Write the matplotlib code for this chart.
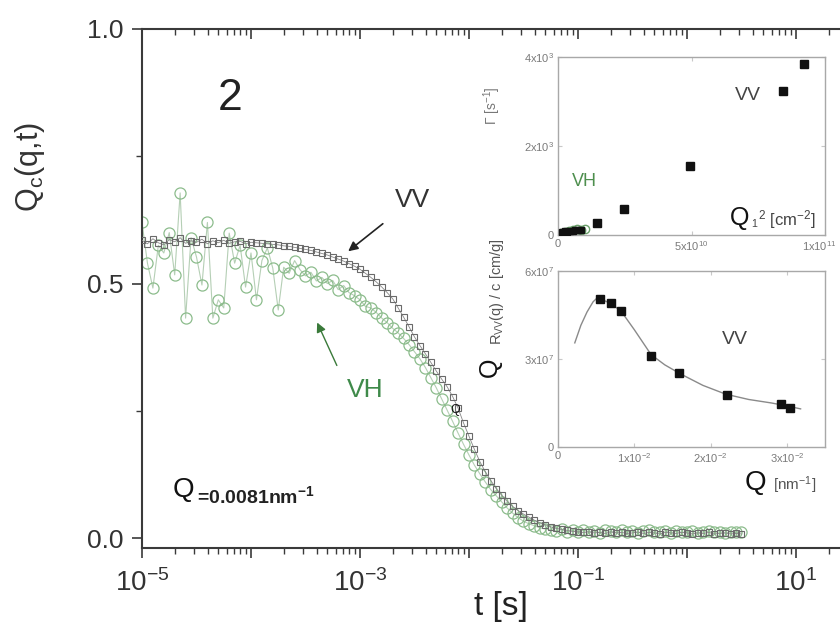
import matplotlib
matplotlib.use('Agg')
import matplotlib.pyplot as plt
import matplotlib.transforms as mtransforms
import numpy as np
from matplotlib.ticker import FixedLocator, FixedFormatter, LogLocator, NullFormatter

plt.rcParams['font.family'] = ['Liberation Sans', 'DejaVu Sans']
plt.rcParams['mathtext.fontset'] = 'custom'
plt.rcParams['mathtext.rm'] = 'Liberation Sans'
plt.rcParams['mathtext.it'] = 'Liberation Sans:italic'
plt.rcParams['mathtext.bf'] = 'Liberation Sans:bold'
plt.rcParams['mathtext.default'] = 'regular'

# ---------------- data ----------------
# main panel: correlation functions, time given as log10(t [s])
vv_log10_t = [-5.00, -4.95, -4.90, -4.85, -4.80, -4.75, -4.70, -4.65, -4.60, -4.55,
              -4.50, -4.45, -4.40, -4.35, -4.30, -4.25, -4.20, -4.15, -4.10, -4.05,
              -4.00, -3.95, -3.90, -3.85, -3.80, -3.75, -3.70, -3.65, -3.60, -3.55,
              -3.50, -3.45, -3.40, -3.35, -3.30, -3.25, -3.20, -3.15, -3.10, -3.05,
              -3.00, -2.95, -2.90, -2.85, -2.80, -2.75, -2.70, -2.65, -2.60, -2.55,
              -2.50, -2.45, -2.40, -2.35, -2.30, -2.25, -2.20, -2.15, -2.10, -2.05,
              -2.00, -1.95, -1.90, -1.85, -1.80, -1.75, -1.70, -1.65, -1.60, -1.55,
              -1.50, -1.45, -1.40, -1.35, -1.30, -1.25, -1.20, -1.15, -1.10, -1.05,
              -1.00, -0.95, -0.90, -0.85, -0.80, -0.75, -0.70, -0.65, -0.60, -0.55,
              -0.50, -0.45, -0.40, -0.35, -0.30, -0.25, -0.20, -0.15, -0.10, -0.05,
              0.00, 0.05, 0.10, 0.15, 0.20, 0.25, 0.30, 0.35, 0.40, 0.45, 0.50]
vv_c = [0.585, 0.578, 0.588, 0.580, 0.576, 0.586, 0.582, 0.590, 0.579, 0.584,
        0.581, 0.587, 0.578, 0.584, 0.580, 0.585, 0.579, 0.582, 0.583, 0.578,
        0.581, 0.580, 0.579, 0.578, 0.577, 0.576, 0.574, 0.573, 0.571, 0.569,
        0.567, 0.565, 0.562, 0.559, 0.556, 0.552, 0.548, 0.544, 0.539, 0.534,
        0.528, 0.520, 0.512, 0.503, 0.493, 0.482, 0.470, 0.452, 0.434, 0.415,
        0.395, 0.378, 0.362, 0.345, 0.328, 0.312, 0.297, 0.278, 0.255, 0.226,
        0.200, 0.174, 0.150, 0.130, 0.113, 0.097, 0.084, 0.072, 0.062, 0.054,
        0.047, 0.041, 0.035, 0.030, 0.026, 0.022, 0.019, 0.017, 0.015, 0.013,
        0.012, 0.011, 0.012, 0.010, 0.011, 0.009, 0.012, 0.010, 0.011, 0.009,
        0.010, 0.012, 0.009, 0.011, 0.010, 0.008, 0.011, 0.010, 0.009, 0.011,
        0.010, 0.008, 0.010, 0.009, 0.011, 0.008, 0.009, 0.010, 0.008, 0.009, 0.008]

vh_log10_t = vv_log10_t
vh_c = [0.620, 0.540, 0.491, 0.575, 0.560, 0.600, 0.517, 0.678, 0.432, 0.590,
        0.552, 0.497, 0.620, 0.432, 0.468, 0.452, 0.599, 0.540, 0.575, 0.493,
        0.560, 0.468, 0.545, 0.570, 0.530, 0.448, 0.532, 0.520, 0.545, 0.527,
        0.515, 0.522, 0.505, 0.512, 0.500, 0.506, 0.488, 0.496, 0.482, 0.476,
        0.468, 0.455, 0.452, 0.443, 0.432, 0.423, 0.412, 0.403, 0.392, 0.380,
        0.366, 0.352, 0.335, 0.315, 0.295, 0.273, 0.251, 0.229, 0.206, 0.184,
        0.163, 0.143, 0.126, 0.110, 0.095, 0.083, 0.071, 0.059, 0.049, 0.040,
        0.033, 0.028, 0.024, 0.020, 0.018, 0.016, 0.014, 0.017, 0.012, 0.015,
        0.011, 0.016, 0.012, 0.014, 0.010, 0.015, 0.013, 0.011, 0.016, 0.012,
        0.014, 0.010, 0.013, 0.015, 0.011, 0.012, 0.014, 0.010, 0.013, 0.011,
        0.012, 0.014, 0.010, 0.012, 0.013, 0.011, 0.012, 0.010, 0.012, 0.011, 0.012]

# inset 1: relaxation rate vs Q^2 (x in units of 1e10 cm^-2)
gam_q2 = [1.46, 2.47, 4.94, 8.43, 9.21]
gam_vv = [270, 584, 1551, 3236, 3843]
gam_q2_low = [0.15, 0.25, 0.35, 0.45, 0.55, 0.65, 0.75, 0.85]
gam_vv_low = [60, 80, 75, 100, 95, 110, 120, 115]
gam_vh_q2 = [0.10, 0.25, 0.40, 0.55, 0.70, 0.85, 1.00]
gam_vh = [50, 70, 90, 110, 130, 120, 140]

# inset 2: Rayleigh ratio vs Q (x in units of 1e-2 nm^-1, y in 1e7 cm/g)
r_q = [0.553, 0.70, 0.83, 1.22, 1.59, 2.22, 2.92, 3.04]
r_vv = [5.05, 4.91, 4.64, 3.10, 2.52, 1.77, 1.47, 1.33]
fit_q = [0.22, 0.30, 0.38, 0.46, 0.52, 0.60, 0.70, 0.83, 1.00, 1.22, 1.40, 1.60,
         1.90, 2.20, 2.50, 2.80, 3.00, 3.18]
fit_vv = [3.55, 4.15, 4.60, 4.95, 5.10, 5.00, 4.88, 4.62, 4.00, 3.15, 2.80, 2.50,
          2.10, 1.80, 1.62, 1.50, 1.40, 1.30]

main_xticks = [1e-5, 1e-4, 1e-3, 1e-2, 1e-1, 1e0, 1e1, 1e2]
main_xlabels = ['$10^{-5}$', '', '$10^{-3}$', '', '$10^{-1}$', '', '$10^{1}$', '']
main_yticks = [0.0, 0.5, 1.0]
main_ylabels = ['0.0', '0.5', '1.0']

# ---------------- figure ----------------
W, H = 840, 630
fig = plt.figure(figsize=(8.4, 6.3), dpi=100)


def rect(x0, y0, x1, y1):
    return [x0 / W, 1 - y1 / H, (x1 - x0) / W, (y1 - y0) / H]


def fx(px):
    return px / W


def fy(py):
    return 1 - py / H


ax = fig.add_axes(rect(142, 29, 905, 548))
t_vh = 10.0 ** np.array(vh_log10_t)
t_vv = 10.0 ** np.array(vv_log10_t)
ax.plot(t_vh, vh_c, '-', color='#b5cfb5', lw=0.8, marker='o', ms=8,
        mfc='none', mec='#8cbc8c', mew=0.9, zorder=2)
ax.plot(t_vv, vv_c, '-', color='#888888', lw=0.6, marker='s', ms=4.6,
        mfc='none', mec='#6a6a6a', mew=0.8, zorder=3)

ax.set_xscale('log')
ax.set_xlim(1e-5, 1e2)
ax.set_ylim(-0.0196, 1.0)
ax.xaxis.set_major_locator(FixedLocator(main_xticks))
ax.xaxis.set_major_formatter(FixedFormatter(main_xlabels))
ax.xaxis.set_minor_locator(LogLocator(base=10, subs=np.arange(2, 10)))
ax.xaxis.set_minor_formatter(NullFormatter())
ax.yaxis.set_major_locator(FixedLocator(main_yticks))
ax.yaxis.set_major_formatter(FixedFormatter(main_ylabels))
ax.yaxis.set_minor_locator(FixedLocator([0.25, 0.75]))
for s in ax.spines.values():
    s.set_color('#3a3a3a')
    s.set_linewidth(1.5)
ax.tick_params(axis='both', which='major', direction='out', length=7.5, width=1.2,
               color='#3a3a3a', labelsize=19, labelcolor='#333333', pad=6)
ax.tick_params(axis='both', which='minor', direction='out', length=4, width=1.0,
               color='#3a3a3a')
ax.tick_params(axis='x', which='major', pad=8, labelsize=20)

# top ticks pointing inwards
axt = ax.twiny()
axt.set_xscale('log')
axt.set_xlim(ax.get_xlim())
axt.xaxis.set_major_locator(FixedLocator(main_xticks))
axt.xaxis.set_minor_locator(LogLocator(base=10, subs=np.arange(2, 10)))
axt.xaxis.set_major_formatter(NullFormatter())
axt.xaxis.set_minor_formatter(NullFormatter())
axt.tick_params(axis='x', which='major', direction='in', length=7, width=1.2, color='#3a3a3a')
axt.tick_params(axis='x', which='minor', direction='in', length=4, width=1.0, color='#3a3a3a')
for s in axt.spines.values():
    s.set_visible(False)

# main texts
fig.text(fx(501), fy(606), 't [s]', fontsize=24, color='#222222', ha='center', va='center')
fig.text(fx(30), fy(167), 'Q$_c$(q,t)', fontsize=22, color='#333333', rotation=90,
         ha='center', va='center')
fig.text(fx(230), fy(98), '2', fontsize=32, color='#222222', ha='center', va='center')
fig.text(fx(413), fy(200), 'VV', fontsize=19, color='#333333', ha='center', va='center')
fig.text(fx(365), fy(390), 'VH', fontsize=19, color='#3f8a4a', ha='center', va='center')
fig.text(fx(173), fy(497), 'Q', fontsize=20, color='#111111', ha='left', va='baseline')
fig.text(fx(197), fy(503), '=0.0081nm$^{-1}$', fontsize=14, color='#222222',
         fontweight='bold', ha='left', va='baseline')
fig.text(fx(455), fy(410), 'Q', fontsize=9, color='#111111', ha='center', va='center')

fig.add_artist(matplotlib.patches.FancyArrowPatch(
    (fx(385), fy(222)), (fx(346), fy(253)), transform=fig.transFigure,
    arrowstyle='-|>', mutation_scale=14, color='#222222', lw=1.2))
fig.add_artist(matplotlib.patches.FancyArrowPatch(
    (fx(338), fy(368)), (fx(316), fy(320)), transform=fig.transFigure,
    arrowstyle='-|>', mutation_scale=14, color='#3a7a3a', lw=1.0))

# ---------------- inset 1 ----------------
in_col = '#a8a8a8'
lab_col = '#7a7a7a'
ax1 = fig.add_axes(rect(558, 57, 825, 235))
ax1.plot(gam_vh_q2, gam_vh, 'o', ms=6, mfc='none', mec='#6aa06a', mew=1.0, zorder=2)
ax1.plot(gam_q2_low, gam_vv_low, 's', ms=4, color='#111111', zorder=3)
ax1.plot(gam_q2, gam_vv, 's', ms=5.5, color='#111111', zorder=3)
ax1.set_xlim(0, 10)
ax1.set_ylim(0, 4000)
ax1.set_xticks([0, 5, 10])
ax1.set_xticklabels(['0', '5x10$^{10}$', '1x10$^{11}$'])
ax1.set_yticks([0, 2000, 4000])
ax1.set_yticklabels(['0', '2x10$^{3}$', '4x10$^{3}$'])
for s in ax1.spines.values():
    s.set_color(in_col)
    s.set_linewidth(1.0)
ax1.tick_params(direction='in', length=3, width=0.8, color='#c8c8c8', labelsize=8,
                labelcolor=lab_col, pad=3, top=True, right=True)
# keep the last label inside the canvas
last = ax1.get_xticklabels()[-1]
last.set_horizontalalignment('right')
last.set_transform(last.get_transform() + mtransforms.ScaledTranslation(12 / 100, 0, fig.dpi_scale_trans))
fig.text(fx(748), fy(95), 'VV', fontsize=14, color='#444444', ha='center', va='center')
fig.text(fx(584), fy(182), 'VH', fontsize=13, color='#4e8f4e', ha='center', va='center')
fig.text(fx(730), fy(225), 'Q', fontsize=18, color='#111111', ha='left', va='baseline')
fig.text(fx(751), fy(225), '$_1$', fontsize=11, color='#444444', ha='left', va='baseline')
fig.text(fx(758), fy(225), '$^2$ [cm$^{-2}$]', fontsize=12, color='#444444',
         ha='left', va='baseline')
fig.text(fx(492), fy(106), 'Γ [s$^{-1}$]', fontsize=10, color='#777777', rotation=90,
         ha='center', va='center')

# ---------------- inset 2 ----------------
ax2 = fig.add_axes(rect(558, 271, 825, 447))
ax2.plot(fit_q, fit_vv, '-', color='#8a8a8a', lw=1.0, zorder=2)
ax2.plot(r_q, r_vv, 's', ms=5.5, color='#111111', zorder=3)
ax2.set_xlim(0, 3.5)
ax2.set_ylim(0, 6)
ax2.set_xticks([0, 1, 2, 3])
ax2.set_xticklabels(['0', '1x10$^{-2}$', '2x10$^{-2}$', '3x10$^{-2}$'])
ax2.set_yticks([0, 3, 6])
ax2.set_yticklabels(['0', '3x10$^{7}$', '6x10$^{7}$'])
for s in ax2.spines.values():
    s.set_color(in_col)
    s.set_linewidth(1.0)
ax2.tick_params(direction='in', length=3, width=0.8, color='#c8c8c8', labelsize=8,
                labelcolor=lab_col, pad=3, top=True, right=True)
fig.text(fx(735), fy(340), 'VV', fontsize=14, color='#444444', ha='center', va='center')
fig.text(fx(490), fy(367), 'Q', fontsize=18, color='#111111', rotation=90,
         ha='center', va='center')
fig.text(fx(497), fy(292), 'R$_{VV}$(q) / c [cm/g]', fontsize=10.5, color='#555555',
         rotation=90, ha='center', va='center')
fig.text(fx(745), fy(490), 'Q', fontsize=20, color='#111111', ha='left', va='baseline')
fig.text(fx(773), fy(490), '[nm$^{-1}$]', fontsize=11, color='#555555', ha='left',
         va='baseline')

fig.savefig('out.png', dpi=100)
